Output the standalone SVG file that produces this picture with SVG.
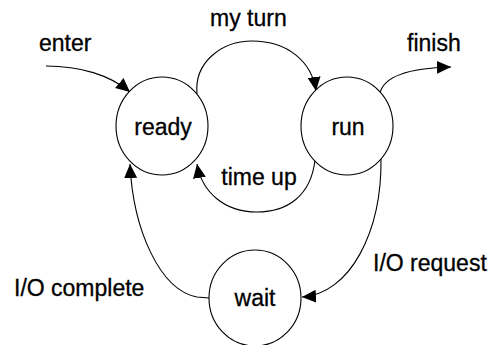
<svg xmlns="http://www.w3.org/2000/svg" width="488" height="345" viewBox="0 0 488 345">
<style>
.st{fill:#fff;stroke:#000;stroke-width:1.1}
.c{fill:none;stroke:#000;stroke-width:1.1}
text{font-family:"Liberation Sans",Arial,sans-serif;font-size:23px;fill:#000;stroke:#000;stroke-width:0.3}
.m{text-anchor:middle}
</style>
<defs>
<marker id="ah" markerUnits="userSpaceOnUse" markerWidth="16" markerHeight="14" refX="14" refY="6.5" orient="auto">
<path d="M0,0 L14,6.5 L0,13 Z" fill="#000"/>
</marker>
</defs>
<rect width="488" height="345" fill="#fff"/>
<g id="connectors">
<path class="c" d="M46,66 C80,66 110,75 130,92" marker-end="url(#ah)"/>
<path class="c" d="M197,94 C194,62 222,41 252,41 C288,41 312,62 316,91" marker-end="url(#ah)"/>
<path class="c" d="M380,93 C384,76 410,68 451,67" marker-end="url(#ah)"/>
<path class="c" d="M315,160 C311,196 287,212 257,212 C224,212 202,192 197,164" marker-end="url(#ah)"/>
<path class="c" d="M381,158 C382,232 350,294 302,297" marker-end="url(#ah)"/>
<path class="c" d="M209,298 L197,297 C160,290 133,230 130,164" marker-end="url(#ah)"/>
</g>
<g id="ready">
<ellipse class="st" cx="162" cy="126" rx="46" ry="49"/>
<text class="m" x="163" y="135">ready</text>
</g>
<g id="run">
<ellipse class="st" cx="347" cy="126" rx="46" ry="49"/>
<text class="m" x="348" y="135">run</text>
</g>
<g id="wait">
<ellipse class="st" cx="255" cy="298" rx="46" ry="48"/>
<text class="m" x="255" y="306">wait</text>
</g>
<g id="labels">
<text x="39" y="51">enter</text>
<text x="210" y="26">my turn</text>
<text x="407" y="51">finish</text>
<text class="m" x="259" y="185">time up</text>
<text x="14" y="296">I/O complete</text>
<text x="373" y="271">I/O request</text>
</g>
</svg>
